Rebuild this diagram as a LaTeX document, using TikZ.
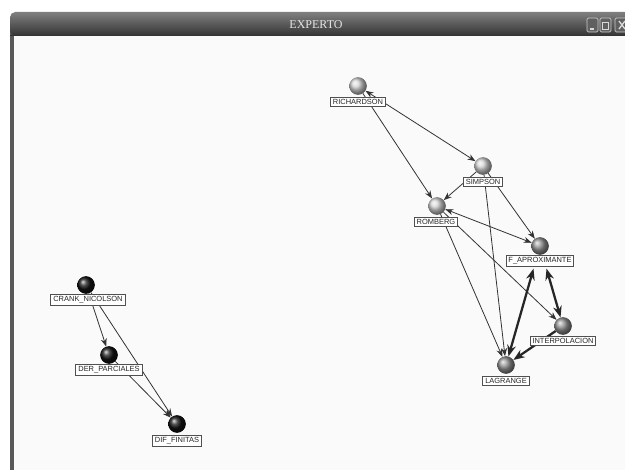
\documentclass[tikz,border=0pt]{standalone}
\usepackage{fontspec}
\setmainfont{Liberation Serif}
\newfontfamily\labelfont{Liberation Sans}
\usetikzlibrary{arrows.meta,shadings}
\definecolor{pane}{HTML}{FAFAFA}
\definecolor{edgegray}{HTML}{333333}
\definecolor{boxline}{HTML}{505050}
\begin{document}
\begin{tikzpicture}[x=0.75pt,y=-0.75pt,
  ballnode/.style={circle,inner sep=0pt,minimum size=13pt,shading=ball},
  lightball/.style={ballnode,ball color=gray!35},
  midball/.style={ballnode,ball color=gray!85},
  darkball/.style={ballnode,ball color=black!92},
  tag/.style={draw=boxline,fill=white,line width=0.75pt,inner xsep=1.8pt,inner ysep=1.4pt,
    font=\labelfont\fontsize{5.6}{6.5}\selectfont,text=black!85},
  link/.style={draw=edgegray,line width=0.6pt,-{Stealth[length=6pt,width=4.5pt]}},
  bilink/.style={link,{Stealth[length=6pt,width=4.5pt]}-{Stealth[length=6pt,width=4.5pt]}},
  strong/.style={draw=black!85,line width=1.7pt,{Stealth[length=8.5pt,width=6.5pt]}-{Stealth[length=8.5pt,width=6.5pt]}},
  strongone/.style={draw=black!85,line width=1.7pt,-{Stealth[length=8.5pt,width=6.5pt]}},
  winbtn/.style={draw=gray!40,fill=gray!75!black,rounded corners=1pt,line width=0.5pt}
]
% page and window frame
\useasboundingbox (0,0) rectangle (625,470);
\fill[white] (0,0) rectangle (625,470);
\fill[pane] (14,36) rectangle (625,470);
\fill[gray!70!black] (10,30) rectangle (14,470);
\shade[top color=black!50,bottom color=black!80,rounded corners=4pt]
  (10,36) -- (10,12) -- (640,12) -- (640,36) -- cycle;
\fill[black!80] (10,35) rectangle (625,36.5);
\node[font=\fontsize{9}{10}\selectfont,text=white!90!black] (title) at (316,25) {EXPERTO};
% window buttons
\draw[winbtn] (587,18) rectangle (598,32);
\draw[white!85!black,line width=1pt] (589.5,29) -- (593.5,29);
\draw[winbtn] (600,18) rectangle (611,32);
\draw[white!85!black,line width=0.6pt] (602.5,22) rectangle (608.5,29);
\draw[white!85!black,line width=1pt] (602.5,22.5) -- (608.5,22.5);
\draw[winbtn] (615,18) rectangle (630,32);
\draw[white!85!black,line width=1pt] (619,21) -- (625,29) (619,29) -- (625,21);

% sphere positions
\node[lightball] (rich) at (358,86) {};
\node[lightball] (simp) at (483,166) {};
\node[lightball] (romb) at (437,206) {};
\node[midball] (fapr) at (540,246) {};
\node[midball] (inte) at (563,326) {};
\node[midball] (lagr) at (506,365) {};
\node[darkball] (crank) at (86,285) {};
\node[darkball] (derp) at (109,355) {};
\node[darkball] (diff) at (177,424) {};

% connectors
\draw[bilink] (rich) -- (simp);
\draw[link] (rich) -- (romb);
\draw[link] (simp) -- (romb);
\draw[link] (simp) -- (fapr);
\draw[link] (simp) -- (lagr);
\draw[bilink] (romb) -- (fapr);
\draw[link] (romb) -- (lagr);
\draw[link] (romb) -- (inte);
\draw[strong,shorten <=11pt] (fapr) -- (lagr);
\draw[strong,shorten <=11pt] (fapr) -- (inte);
\draw[strongone] (inte) -- (lagr);
\draw[link] (crank) -- (derp);
\draw[link] (crank) -- (diff);
\draw[link] (derp) -- (diff);

% labels
\node[tag] (richL) at (358,102) {RICHARDSON};
\node[tag] (simpL) at (483,182) {SIMPSON};
\node[tag] (rombL) at (436,222) {ROMBERG};
\node[tag] (faprL) at (540,261) {F\_APROXIMANTE};
\node[tag] (inteL) at (563,341) {INTERPOLACION};
\node[tag] (lagrL) at (506,381) {LAGRANGE};
\node[tag] (crankL) at (88,300) {CRANK\_NICOLSON};
\node[tag] (derpL) at (109,370) {DER\_PARCIALES};
\node[tag] (diffL) at (177,441) {DIF\_FINITAS};

% spheres on top of the connectors
\foreach \n/\s in {rich/lightball,simp/lightball,romb/lightball,fapr/midball,inte/midball,lagr/midball,crank/darkball,derp/darkball,diff/darkball}
  \node[\s] at (\n) {};
\end{tikzpicture}
\end{document}
